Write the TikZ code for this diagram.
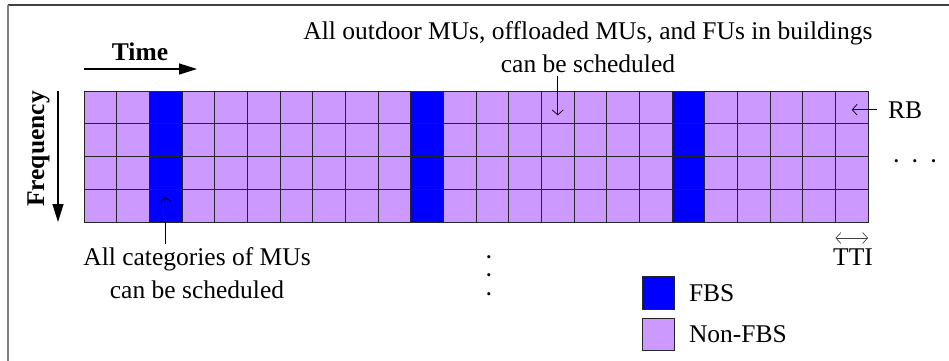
\documentclass[tikz,border=0pt]{standalone}
\usepackage{fontspec}
\setmainfont{Liberation Serif}
\usetikzlibrary{arrows.meta,positioning,calc}
\definecolor{fbsblue}{RGB}{0,0,255}
\definecolor{nonfbs}{RGB}{204,153,255}
\tikzstyle{rb} = [rectangle, draw=black!85, fill=nonfbs, minimum width=32.67pt, minimum height=32.75pt, inner sep=0pt, outer sep=0pt, line width=0.8pt]
\tikzstyle{fbs} = [rb, fill=fbsblue]
\tikzstyle{note} = [font=\fontsize{25.5}{33}\selectfont, align=center, inner sep=3pt]
\tikzstyle{dots} = [font=\fontsize{13}{18.5}\selectfont, align=center, inner sep=1pt]
\tikzstyle{axis} = [font=\fontsize{25.5}{33}\selectfont\bfseries, inner sep=0pt]
\tikzstyle{bigarrow} = [-{Triangle[length=18pt,width=11pt]}, line width=1.2pt]
\tikzstyle{pointer} = [-{Straight Barb[length=5pt,width=11pt]}, line width=0.7pt]

\begin{document}
\begin{tikzpicture}[x=1pt, y=-1pt]
    \clip (0,0) rectangle (949,360);
    % frame (only top and left edges are in view)
    \draw[black!75, line width=1.2pt] (8,5) -- (960,5);
    \draw[black!50, line width=2.2pt] (8,5) -- (8,370);

    % resource grid: 24 TTIs x 4 RBs, FBS in every 8th TTI
    \foreach \c in {0,...,23} {
        \pgfmathtruncatemacro\isfbs{mod(\c,8)==2}
        \ifnum\isfbs=1 \def\cellstyle{fbs}\else\def\cellstyle{rb}\fi
        \foreach \r in {0,...,3} {
            \node[\cellstyle] (c\c-\r) at ({84+32.67*(\c+0.5)}, {91+32.75*(\r+0.5)}) {};
        }
    }

    % axes
    \node[axis, anchor=base] (time) at (140,60) {Time};
    \coordinate (tstart) at (84,69);
    \coordinate (tend) at (197,69);
    \draw[bigarrow] (tstart) -- (tend);
    \node[axis, rotate=90, anchor=base] (freq) at (44,149) {Frequency};
    \coordinate (fstart) at (58,91);
    \coordinate (fend) at (58,222);
    \draw[bigarrow] (fstart) -- (fend);

    % annotations
    \node[note] (allout) at (588,47) {All outdoor MUs, offloaded MUs, and FUs in buildings\\can be scheduled};
    \draw[pointer] (allout.south -| c14-0) -- ($(c14-0.center)+(0,8)$);
    \node[note] (allcat) at (197,273) {All categories of MUs\\can be scheduled};
    \draw[pointer] (allcat.north -| c2-3) -- ($(c2-3.center)+(0,-9)$);
    \node[note, anchor=base west] (rblabel) at (885,118) {RB};
    \draw[pointer] ([xshift=-8pt]rblabel.west) -- (rblabel.west -| c23-0);
    \node[dots] (hdots) at (915,163) {\textbullet\hspace{14pt}\textbullet\hspace{14pt}\textbullet};
    \node[dots] (vdots) at (489,277) {\textbullet\\\textbullet\\\textbullet};

    % TTI span
    \draw[{Straight Barb[length=5pt,width=11pt]}-{Straight Barb[length=5pt,width=11pt]}, line width=0.7pt, black!75] ([yshift=-16pt]c23-3.south west) -- ([yshift=-16pt]c23-3.south east);
    \node[note, anchor=base] (tti) at (853,265) {TTI};

    % legend
    \node[fbs] (legfbs) at (658.5,293) {};
    \node[rb] (legnon) at (658.5,334.5) {};
    \node[note, right=11pt of legfbs] (fbslabel) {FBS};
    \node[note, right=11pt of legnon] (nonlabel) {Non-FBS};
\end{tikzpicture}
\end{document}
